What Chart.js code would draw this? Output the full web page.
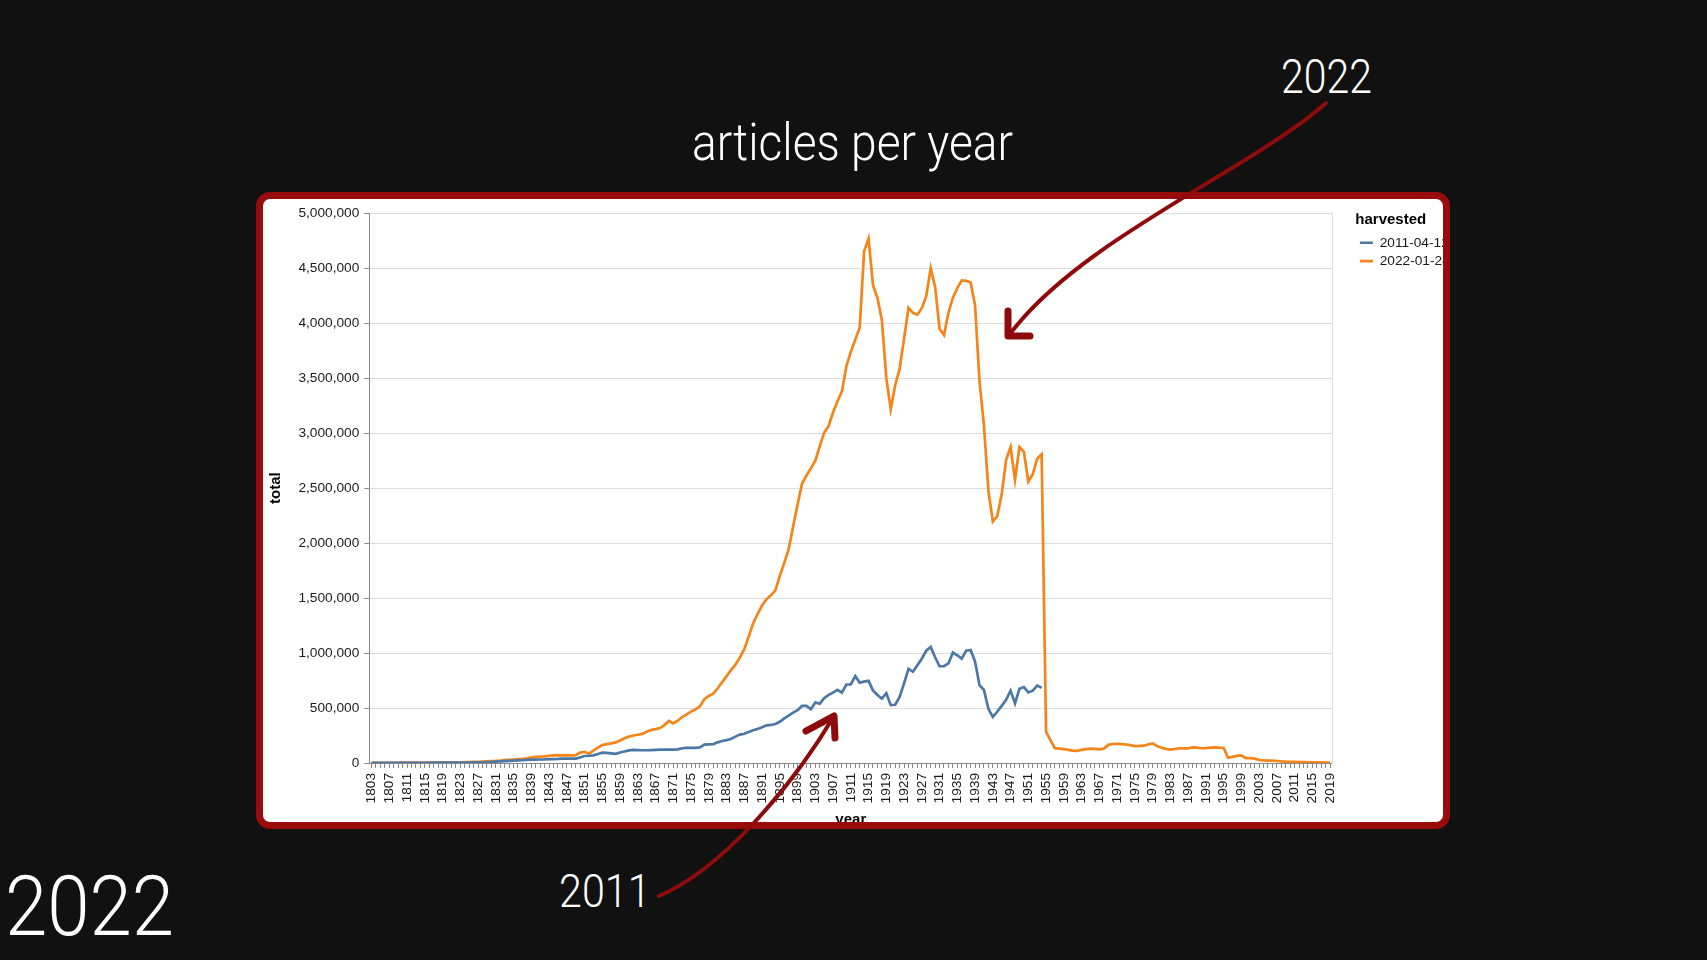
<!DOCTYPE html>
<html>
<head>
<meta charset="utf-8">
<script src="https://cdn.jsdelivr.net/npm/chart.js@4.4.1/dist/chart.umd.min.js"></script>
<style>
html,body{margin:0;padding:0;background:#111111;width:1707px;height:960px;overflow:hidden;}
.txt{position:absolute;color:#ffffff;font-family:Roboto,"Noto Sans",sans-serif;font-weight:300;line-height:1;white-space:nowrap;transform-origin:0 0;}
#frame{position:absolute;left:256px;top:192px;width:1180px;height:623px;border:7px solid #980c0c;border-radius:14px;background:#ffffff;overflow:hidden;}
#frame canvas{position:absolute;left:0;top:0;}
#arrows{position:absolute;left:0;top:0;pointer-events:none;}
</style>
</head>
<body>
<div class="txt" data-w="321" style="left:692px;top:117px;font-size:52px;">articles per year</div>
<div class="txt" data-w="91" style="left:1281px;top:54px;font-size:47.5px;">2022</div>
<div class="txt" data-w="91.5" style="left:558.5px;top:868px;font-size:46px;">2011</div>
<div class="txt" data-w="169" style="left:5.4px;top:865px;font-size:84px;">2022</div>

<div id="frame"><canvas id="c" width="1250" height="634"></canvas></div>

<svg id="arrows" width="1707" height="960">
  <path d="M1326,103 C1250,170 1080,240 1010,334" stroke="#8e0b0b" stroke-width="4" fill="none" stroke-linecap="round"/>
  <path d="M1008,311 L1008,336 L1030,336" stroke="#8e0b0b" stroke-width="7" fill="none" stroke-linecap="round" stroke-linejoin="round"/>
  <path d="M659,896 C720,870 790,790 834,716" stroke="#8e0b0b" stroke-width="4" fill="none" stroke-linecap="round"/>
  <path d="M806,731 L834,716 L835,738" stroke="#8e0b0b" stroke-width="7" fill="none" stroke-linecap="round" stroke-linejoin="round"/>
</svg>

<script>
// ---- data ----
const firstYear = 1803;
const lastYear = 2019;
const years = [];
for (let y = firstYear; y <= lastYear; y++) years.push(String(y));

const seriesLabels = ['2011-04-12', '2022-01-24'];

// harvested 2011-04-12 : 1803 .. 1954
const harvest2011 = [
  1000,1000,1200,1200,1500,1500,1600,
  1800,1800,2000,2000,2200,2200,2500,2500,2800,3000,
  3000,3200,3500,3800,4000,4500,5000,6000,7000,8000,
  10000,13000,15000,17000,19000,21000,23000,25000,28000,30000,
  31000,32000,33000,35000,36000,37000,39000,39000,39000,40000,
  50000,64000,66000,70000,82000,94000,92000,88000,83000,95000,
  105000,115000,120000,118000,116000,116000,118000,120000,121000,122000,
  122000,121000,124000,134000,137000,137000,138000,142000,167000,170000,
  172000,188000,200000,208000,218000,240000,258000,266000,282000,298000,
  310000,325000,343000,346000,355000,375000,405000,432000,458000,480000,
  519000,519000,488000,550000,540000,590000,620000,640000,665000,640000,
  714000,714000,790000,731000,740000,747000,660000,618000,585000,635000,
  526000,530000,600000,724000,857000,830000,890000,949000,1022000,1055000,
  962000,880000,880000,906000,1005000,980000,949000,1022000,1028000,923000,
  708000,665000,493000,420000,466000,520000,575000,658000,542000,675000,
  691000,642000,658000,704000,685000
];

// harvested 2022 : 1803 .. 2019
const harvest2022 = [
  2000,1500,1800,2000,2300,2500,2800,
  3000,3300,3500,3800,4000,4300,4600,5000,5200,5500,
  5800,6000,6500,7000,7500,8500,10000,11000,13000,15000,
  17000,19000,22000,26000,29000,32000,35000,37000,42000,50000,
  55000,58000,61000,66000,70000,71000,70000,71000,70000,72000,
  95000,102000,85000,112000,140000,164000,172000,178000,187000,205000,
  225000,240000,250000,257000,265000,285000,300000,308000,318000,345000,
  382000,360000,385000,418000,442000,467000,488000,515000,580000,610000,
  630000,680000,735000,790000,845000,895000,960000,1035000,1150000,1270000,
  1355000,1433000,1490000,1525000,1570000,1700000,1820000,1945000,2150000,2350000,
  2540000,2615000,2680000,2750000,2880000,3005000,3065000,3190000,3290000,3380000,
  3610000,3740000,3850000,3960000,4655000,4770000,4345000,4230000,4030000,3500000,
  3218000,3436000,3585000,3860000,4140000,4095000,4078000,4137000,4246000,4500000,
  4330000,3950000,3892000,4097000,4230000,4320000,4390000,4385000,4370000,4163000,
  3470000,3072000,2477000,2196000,2245000,2444000,2758000,2874000,2576000,2874000,
  2831000,2560000,2626000,2768000,2808000,285000,205000,135000,130000,127000,
  120000,112000,110000,120000,126000,130000,128000,124000,130000,165000,
  173000,174000,172000,168000,162000,153000,155000,158000,168000,178000,
  155000,138000,128000,121000,127000,133000,133000,133000,142000,140000,
  134000,136000,140000,142000,140000,139000,48000,56000,65000,70000,
  45000,44000,40000,28000,23000,22000,21000,18000,14000,12000,
  11000,10000,9000,8000,7000,6500,6000,5000,4000,3000
];

const yTickStep = 500000;
const yMax = 5000000;

// ---- chart ----
const FONT = '"Liberation Sans", Arial, Helvetica, sans-serif';
const data2011 = years.map((y, i) => i < harvest2011.length ? harvest2011[i] : null);
const data2022 = years.map((y, i) => i < harvest2022.length ? harvest2022[i] : null);

const legendWidthPlugin = {
  id: 'legendWidth',
  beforeInit(chart) {
    const orig = chart.legend.fit;
    chart.legend.fit = function () {
      orig.bind(chart.legend)();
      this.width = 157.7;
    };
  }
};

new Chart(document.getElementById('c'), {
  type: 'line',
  data: {
    labels: years,
    datasets: [
      { label: seriesLabels[0], data: data2011, borderColor: '#4c78a8', backgroundColor: '#4c78a8',
        borderWidth: 2.7, pointRadius: 0, pointHoverRadius: 0, tension: 0, spanGaps: false, order: 1 },
      { label: seriesLabels[1], data: data2022, borderColor: '#f58518', backgroundColor: '#f58518',
        borderWidth: 2.7, pointRadius: 0, pointHoverRadius: 0, tension: 0, spanGaps: false, order: 2 }
    ]
  },
  options: {
    responsive: false,
    animation: false,
    devicePixelRatio: 1,
    layout: { padding: { top: 14.3, left: 0, right: 0, bottom: 0 } },
    plugins: {
      tooltip: { enabled: false },
      legend: {
        position: 'right',
        align: 'start',
        title: { display: true, text: 'harvested', position: 'start', color: '#000',
                 font: { size: 15, weight: 'bold', family: FONT }, padding: { top: -1, bottom: 1 } },
        labels: { usePointStyle: true, pointStyle: 'line', pointStyleWidth: 13, color: '#1a1a1a',
                  font: { size: 13.7, family: FONT }, padding: 4.6 }
      }
    },
    scales: {
      x: {
        type: 'category',
        offset: true,
        grid: { display: true, drawOnChartArea: false, drawTicks: true, tickLength: 5, tickColor: '#888', tickWidth: 1 },
        border: { display: true, color: '#888', width: 1 },
        ticks: {
          autoSkip: false, maxRotation: 90, minRotation: 90, padding: 5, color: '#1a1a1a',
          font: { size: 13.7, family: FONT },
          callback: function (v, i) { return i % 4 === 0 ? this.getLabelForValue(v) : ''; }
        },
        title: { display: true, text: 'year', color: '#000', font: { size: 15, weight: 'bold', family: FONT },
                 padding: { top: 0, bottom: 4 } },
        afterFit(s) { s.height = 70; }
      },
      y: {
        min: 0, max: yMax,
        grid: { color: '#dddddd', lineWidth: 1, tickColor: '#888', tickLength: 5 },
        border: { display: true, color: '#888', width: 1 },
        ticks: { stepSize: yTickStep, padding: 5, color: '#1a1a1a', font: { size: 13.7, family: FONT },
                 callback: v => v.toLocaleString('en-US') },
        title: { display: true, text: 'total', color: '#000', font: { size: 15, weight: 'bold', family: FONT },
                 padding: { top: 4, bottom: 4 } },
        afterFit(s) { s.width = 106.3; }
      },
      yr: {
        position: 'right', min: 0, max: yMax,
        grid: { drawOnChartArea: false, drawTicks: false },
        ticks: { display: false },
        border: { display: true, color: '#dddddd', width: 1 },
        afterFit(s) { s.width = 23; }
      }
    }
  },
  plugins: [legendWidthPlugin]
});

// ---- slide text fitting ----
function fitTexts() {
  document.querySelectorAll('.txt').forEach(el => {
    el.style.transform = 'none';
    const w = el.getBoundingClientRect().width;
    el.style.transform = 'scaleX(' + (parseFloat(el.dataset.w) / w) + ')';
  });
}
fitTexts();
if (document.fonts && document.fonts.ready) document.fonts.ready.then(fitTexts);
</script>
</body>
</html>
